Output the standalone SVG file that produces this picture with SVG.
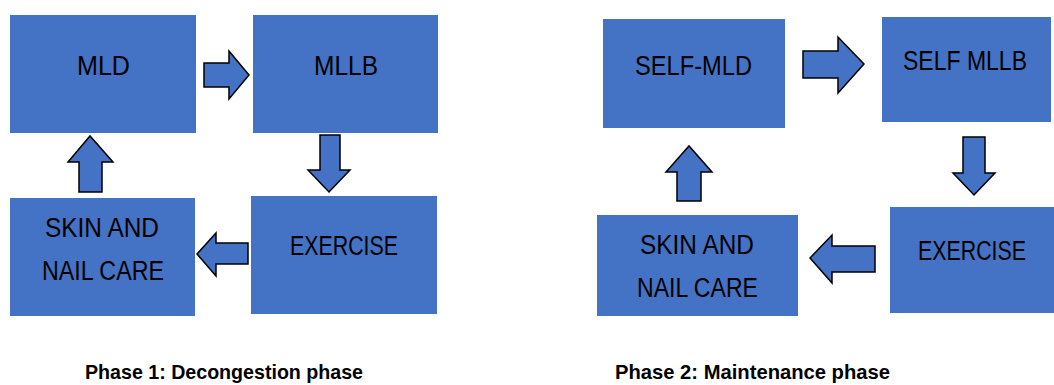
<svg xmlns="http://www.w3.org/2000/svg" width="1054" height="385" viewBox="0 0 1054 385">
<style>
.box{fill:#4472C4;}
.arr{fill:#4472C4;stroke:#000;stroke-width:1.5;stroke-linejoin:miter;}
.t{font-family:"Liberation Sans",Arial,sans-serif;font-size:27px;fill:#000;}
.cap{font-family:"Liberation Sans",Arial,sans-serif;font-size:21px;font-weight:bold;fill:#000;}
</style>
<rect width="1054" height="385" fill="#fff"/>
<g id="connectors">
<polygon class="arr" points="204,63 229,63 229,51 249,75 229,99 229,87 204,87"/>
<polygon class="arr" points="320,135 340,135 340,170 350,170 329,192 308,170 320,170"/>
<polygon class="arr" points="248,243 216,243 216,233 197,254 216,276 216,264 248,264"/>
<polygon class="arr" points="79,192 79,162 68,162 90,136 113,162 102,162 102,192"/>
<polygon class="arr" points="803,51 838,51 838,37 864,64 838,93 838,78 803,78"/>
<polygon class="arr" points="963,137 985,137 985,173 995,173 974,195 953,173 963,173"/>
<polygon class="arr" points="875,246 832,246 832,235 810,258 832,283 832,272 875,272"/>
<polygon class="arr" points="677,201 677,172 666,172 689,146 712,172 701,172 701,201"/>
</g>
<g id="p1-mld">
<rect class="box" x="10" y="15" width="186" height="118"/>
<text class="t" x="77" y="75" textLength="53" lengthAdjust="spacingAndGlyphs">MLD</text>
</g>
<g id="p1-mllb">
<rect class="box" x="253" y="15" width="185" height="118"/>
<text class="t" x="314" y="75" textLength="64" lengthAdjust="spacingAndGlyphs">MLLB</text>
</g>
<g id="p1-exercise">
<rect class="box" x="251" y="196" width="186" height="118"/>
<text class="t" x="290" y="255" textLength="108" lengthAdjust="spacingAndGlyphs">EXERCISE</text>
</g>
<g id="p1-skin">
<rect class="box" x="10" y="198" width="185" height="118"/>
<text class="t" x="45" y="237" textLength="114" lengthAdjust="spacingAndGlyphs">SKIN AND</text>
<text class="t" x="42" y="280" textLength="122" lengthAdjust="spacingAndGlyphs">NAIL CARE</text>
</g>
<g id="p2-selfmld">
<rect class="box" x="603" y="19" width="182" height="109"/>
<text class="t" x="635" y="75" textLength="117" lengthAdjust="spacingAndGlyphs">SELF-MLD</text>
</g>
<g id="p2-selfmllb">
<rect class="box" x="882" y="17" width="169" height="105"/>
<text class="t" x="903" y="70" textLength="124" lengthAdjust="spacingAndGlyphs">SELF MLLB</text>
</g>
<g id="p2-exercise">
<rect class="box" x="890" y="207" width="164" height="106"/>
<text class="t" x="918" y="260" textLength="108" lengthAdjust="spacingAndGlyphs">EXERCISE</text>
</g>
<g id="p2-skin">
<rect class="box" x="597" y="215" width="201" height="101"/>
<text class="t" x="640" y="254" textLength="114" lengthAdjust="spacingAndGlyphs">SKIN AND</text>
<text class="t" x="637" y="297" textLength="121" lengthAdjust="spacingAndGlyphs">NAIL CARE</text>
</g>
<g id="captions">
<text class="cap" x="85" y="379" textLength="278" lengthAdjust="spacingAndGlyphs">Phase 1: Decongestion phase</text>
<text class="cap" x="615" y="379" textLength="275" lengthAdjust="spacingAndGlyphs">Phase 2: Maintenance phase</text>
</g>
</svg>
